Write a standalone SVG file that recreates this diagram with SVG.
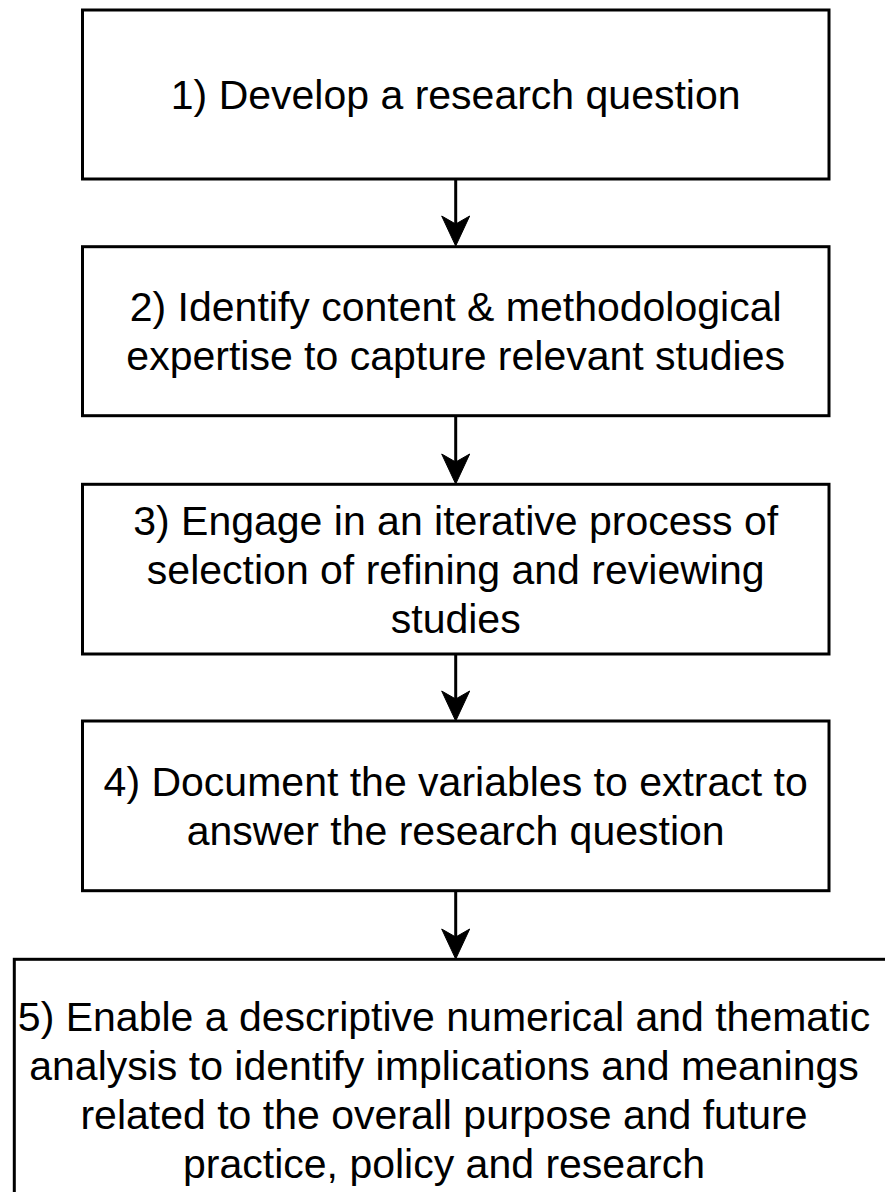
<svg xmlns="http://www.w3.org/2000/svg" width="885" height="1192" viewBox="0 0 885 1192">
<style>
.box{fill:#fff;stroke:#000;stroke-width:3}
.t{font-family:"Liberation Sans",Arial,sans-serif;font-size:41px;fill:#000;text-anchor:middle}
.ln{stroke:#000;stroke-width:3;fill:none}
.hd{fill:#000;stroke:#000;stroke-width:1}
</style>
<rect width="885" height="1192" fill="#fff"/>
<g id="connectors">
<line class="ln" x1="455.7" y1="179" x2="455.7" y2="230"/>
<path class="hd" d="M455.7,246 L441.7,216 L455.7,224 L469.7,216 Z"/>
<line class="ln" x1="455.7" y1="415.7" x2="455.7" y2="468"/>
<path class="hd" d="M455.7,484 L441.7,454 L455.7,462 L469.7,454 Z"/>
<line class="ln" x1="455.7" y1="654" x2="455.7" y2="705"/>
<path class="hd" d="M455.7,721 L441.7,691 L455.7,699 L469.7,691 Z"/>
<line class="ln" x1="455.7" y1="890.7" x2="455.7" y2="943"/>
<path class="hd" d="M455.7,959 L441.7,929 L455.7,937 L469.7,929 Z"/>
</g>
<g id="node1">
<rect class="box" x="82.5" y="10" width="746.5" height="169"/>
<text class="t" x="455.7" y="109">1) Develop a research question</text>
</g>
<g id="node2">
<rect class="box" x="82.5" y="246.7" width="746.5" height="169"/>
<text class="t" x="455.7" y="321">2) Identify content &amp; methodological</text>
<text class="t" x="455.7" y="370">expertise to capture relevant studies</text>
</g>
<g id="node3">
<rect class="box" x="82.5" y="484.3" width="746.5" height="169.7"/>
<text class="t" x="455.7" y="534.5">3) Engage in an iterative process of</text>
<text class="t" x="455.7" y="583.5">selection of refining and reviewing</text>
<text class="t" x="455.7" y="632.5">studies</text>
</g>
<g id="node4">
<rect class="box" x="82.5" y="721" width="746.5" height="169.7"/>
<text class="t" x="455.7" y="796">4) Document the variables to extract to</text>
<text class="t" x="455.7" y="845">answer the research question</text>
</g>
<g id="node5">
<rect class="box" x="14.3" y="959.3" width="890" height="262"/>
<text class="t" x="444" y="1031">5) Enable a descriptive numerical and thematic</text>
<text class="t" x="444" y="1080">analysis to identify implications and meanings</text>
<text class="t" x="444" y="1129">related to the overall purpose and future</text>
<text class="t" x="444" y="1178">practice, policy and research</text>
</g>
</svg>
